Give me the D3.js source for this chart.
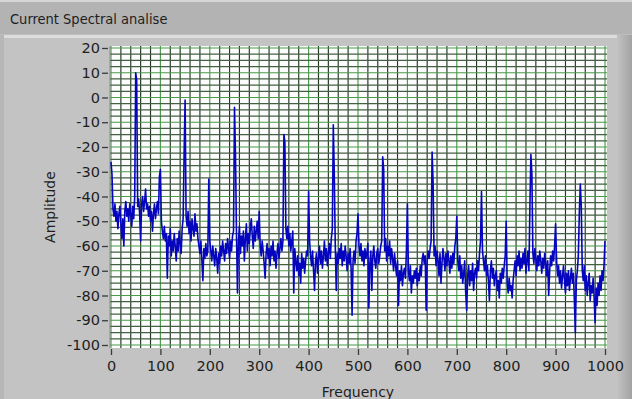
<!DOCTYPE html>
<html><head><meta charset="utf-8">
<script src="https://cdnjs.cloudflare.com/ajax/libs/d3/7.8.5/d3.min.js"></script>
<style>html,body{margin:0;padding:0;background:#bdbdbd;}svg{display:block;}</style>
</head><body>
<script>
// ---- data ----
const chartTitle = "Current Spectral analise";
const xLabel = "Frequency";
const yLabel = "Amplitude";
const xTicks = [0,100,200,300,400,500,600,700,800,900,1000];
const yTicks = [20,10,0,-10,-20,-30,-40,-50,-60,-70,-80,-90,-100];
const freqStep = 2; // Hz between samples
// amplitude (dB) per 2 Hz, rows of 50 Hz
const amplitude = [
 -26,-31,-45,-48,-43,-50,-46,-53,-47,-44,-51,-57,-49,-60,-46,-42,-48,-45,-50,-43,-47,-52,-44,-49,-40,
 10,7,-44,-41,-47,-58,-43,-40,-46,-42,-37,-45,-43,-48,-44,-50,-46,-54,-47,-43,-49,-45,-42,-47,-32,
 -29,-50,-54,-57,-52,-58,-55,-73,-56,-60,-53,-64,-58,-62,-55,-60,-66,-57,-62,-54,-59,-63,-53,-49,-23,
 -1,-48,-52,-46,-55,-50,-58,-49,-53,-56,-47,-54,-51,-57,-60,-63,-58,-66,-74,-61,-65,-59,-64,-62,-33,
 -58,-62,-66,-60,-64,-68,-61,-65,-71,-63,-67,-60,-64,-58,-62,-66,-59,-63,-57,-61,-65,-58,-62,-56,-54,
 -4,-23,-55,-79,-58,-52,-63,-56,-60,-54,-66,-57,-51,-62,-55,-59,-53,-49,-56,-61,-52,-58,-54,-50,-57,
 -46,-60,-64,-58,-62,-67,-73,-63,-59,-65,-61,-68,-60,-64,-58,-66,-62,-69,-63,-59,-65,-61,-57,-62,-58,
 -15,-18,-53,-57,-52,-60,-55,-62,-58,-54,-79,-61,-66,-70,-64,-72,-67,-75,-63,-69,-65,-71,-66,-62,-64,
 -38,-58,-64,-68,-62,-70,-78,-66,-63,-71,-65,-60,-67,-62,-69,-64,-58,-66,-61,-68,-63,-59,-65,-57,-53,
 -11,-31,-60,-78,-63,-67,-61,-65,-59,-68,-62,-66,-60,-64,-70,-63,-67,-61,-69,-88,-66,-62,-67,-58,-55,
 -47,-60,-64,-59,-66,-62,-68,-61,-65,-63,-59,-85,-67,-62,-78,-64,-60,-66,-69,-63,-61,-67,-64,-60,-58,
 -24,-29,-62,-57,-66,-60,-64,-58,-67,-61,-65,-70,-63,-68,-72,-66,-84,-70,-74,-68,-76,-71,-69,-73,-62,
 -43,-70,-74,-68,-79,-72,-75,-70,-73,-69,-76,-71,-74,-68,-72,-65,-63,-67,-64,-86,-66,-62,-65,-61,-58,
 -22,-34,-64,-60,-68,-62,-66,-72,-63,-75,-67,-61,-65,-70,-63,-68,-62,-66,-71,-64,-69,-63,-67,-60,-57,
 -48,-66,-70,-64,-73,-68,-75,-71,-66,-79,-86,-72,-68,-76,-70,-74,-67,-78,-71,-69,-73,-66,-70,-63,-58,
 -38,-62,-66,-70,-64,-72,-68,-74,-82,-70,-66,-73,-69,-76,-72,-70,-78,-74,-81,-71,-75,-69,-73,-68,-64,
 -50,-75,-79,-73,-78,-76,-81,-74,-70,-66,-72,-64,-68,-62,-70,-65,-69,-63,-67,-61,-71,-66,-62,-70,-44,
 -23,-31,-63,-67,-61,-65,-70,-64,-68,-62,-66,-71,-65,-69,-63,-67,-72,-66,-80,-70,-64,-68,-62,-66,-60,
 -51,-66,-72,-68,-75,-70,-77,-72,-68,-74,-79,-71,-76,-70,-78,-73,-69,-75,-71,-82,-95,-74,-70,-64,-47,
 -35,-44,-70,-74,-68,-78,-72,-80,-75,-71,-82,-76,-79,-73,-81,-91,-77,-84,-75,-80,-72,-78,-70,-74,-68,
 -58
];

// ---- drawing ----
const W = 632, H = 399;
const svg = d3.select("body").append("svg").attr("width", W).attr("height", H);
const defs = svg.append("defs");
const g1 = defs.append("linearGradient").attr("id","rside").attr("x1","0").attr("x2","1");
g1.append("stop").attr("offset","0").attr("stop-color","#c2c2c2");
g1.append("stop").attr("offset","1").attr("stop-color","#a2a2a2");

svg.append("rect").attr("width", W).attr("height", H).attr("fill", "#bdbdbd");
// title bar
svg.append("rect").attr("x",0).attr("y",0).attr("width",W).attr("height",34).attr("fill","#b3b3b3");
svg.append("rect").attr("x",0).attr("y",0).attr("width",W).attr("height",2).attr("fill","#d6d6d6");
svg.append("text").attr("x",10).attr("y",24).text(chartTitle)
  .attr("font-family","DejaVu Sans Condensed, DejaVu Sans, sans-serif").attr("font-size",14.5).attr("fill","#1e1e1e");
// panel frame
svg.append("rect").attr("x",0).attr("y",35).attr("width",W).attr("height",H-35).attr("fill","#c3c3c3");
svg.append("rect").attr("x",0).attr("y",35).attr("width",618).attr("height",3).attr("fill","#dcdcdc");
svg.append("rect").attr("x",0).attr("y",35).attr("width",4).attr("height",H-35).attr("fill","#b7b7b7");
svg.append("rect").attr("x",617).attr("y",35).attr("width",15).attr("height",H-35).attr("fill","url(#rside)");

const x = d3.scaleLinear().domain([0,1000]).range([111,605]);
const y = d3.scaleLinear().domain([-100,20]).range([345,48]);

// plot background
svg.append("rect").attr("x",110).attr("y",46).attr("width",497).attr("height",302).attr("fill","#fcfcfc");

// grid
const grid = svg.append("g");
const vLines = d3.range(0, 1001, 20);
grid.selectAll("line.v").data(vLines).join("line")
  .attr("x1", d=>x(d)).attr("x2", d=>x(d)).attr("y1",46).attr("y2",348)
  .attr("stroke", d => d % 100 === 0 ? "#4a9a4a" : "#223822").attr("stroke-width",1.15);
const hLines = d3.range(-100, 20.01, 2.5);
grid.selectAll("line.h").data(hLines).join("line")
  .attr("y1", d=>y(d)).attr("y2", d=>y(d)).attr("x1",110).attr("x2",607)
  .attr("stroke", d => d % 10 === 0 ? "#4a9a4a" : "#445f44").attr("stroke-width",1.15);
// left border
svg.append("line").attr("x1",110).attr("x2",110).attr("y1",46).attr("y2",348).attr("stroke","#8a8a8a").attr("stroke-width",1);

// trace
const pts = amplitude.map((v,i)=>[i*freqStep, v]);
const line = d3.line().x(d=>x(d[0])).y(d=>y(d[1]));
svg.append("path").datum(pts).attr("d", line).attr("fill","none")
  .attr("stroke","#0505c0").attr("stroke-width",1.6).attr("stroke-linejoin","round");

// axes
const font = "DejaVu Sans, sans-serif";
const yAxis = svg.append("g").attr("transform","translate(108,0)")
  .call(d3.axisLeft(y).tickValues(yTicks).tickSize(6).tickPadding(2).tickFormat(d=>String(d)));
const xAxis = svg.append("g").attr("transform","translate(0,349)")
  .call(d3.axisBottom(x).tickValues(xTicks).tickSize(6).tickPadding(6).tickFormat(d=>String(d)));
[yAxis, xAxis].forEach(a=>{
  a.select(".domain").remove();
  a.selectAll(".tick line").attr("stroke","#3a3a3a").attr("stroke-width",1.3);
  a.selectAll(".tick text").attr("fill","#1e1e1e").attr("font-family",font).attr("font-size",14.5);
});

svg.append("text").attr("transform","translate(55,207) rotate(-90)").attr("text-anchor","middle")
  .text(yLabel).attr("font-family",font).attr("font-size",14).attr("fill","#1e1e1e");
svg.append("text").attr("x",358).attr("y",397).attr("text-anchor","middle")
  .text(xLabel).attr("font-family",font).attr("font-size",14).attr("fill","#1e1e1e");
</script>
</body></html>
